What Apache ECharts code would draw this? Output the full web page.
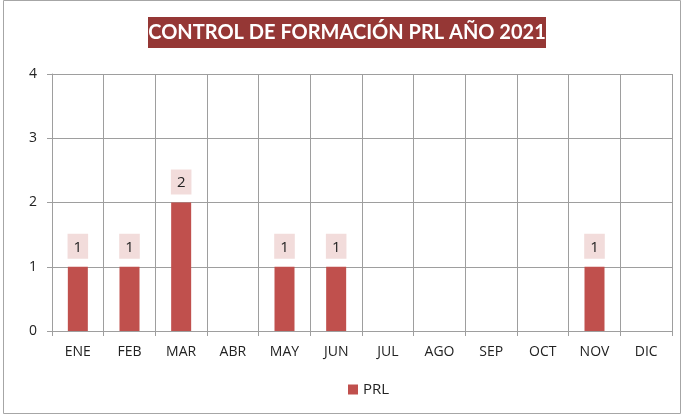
<!DOCTYPE html>
<html><head><meta charset="utf-8">
<script src="https://cdn.jsdelivr.net/npm/echarts@6/dist/echarts.min.js"></script>
<style>html,body{margin:0;padding:0;background:#fff}#c{width:683px;height:416px}</style>
</head><body><div id="c"></div>
<script>
const titleText = 'CONTROL DE FORMACIÓN PRL AÑO 2021';
const months = ['ENE','FEB','MAR','ABR','MAY','JUN','JUL','AGO','SEP','OCT','NOV','DIC'];
const prl = [1,1,2,null,1,1,null,null,null,null,1,null];
const seriesName = 'PRL';
const chart = echarts.init(document.getElementById('c'), null, {renderer:'canvas'});
const gridColor = '#9e9e9e';
const font = '"Open Sans", "Liberation Sans", Arial, sans-serif';
chart.setOption({
  animation:false,
  graphic:[
    {type:'rect', shape:{x:3.5,y:0.5,width:677,height:413}, style:{fill:'none', stroke:'#a6a6a6', lineWidth:1}, z:-1},
    {type:'rect', shape:{x:148,y:17,width:398,height:31}, style:{fill:'#953735'}},
    {type:'text', x:347, y:33, style:{text:titleText, fill:'#fff', font:'bold 20px Lato, "Open Sans", sans-serif', textAlign:'center', textVerticalAlign:'middle'}}
  ],
  legend:{data:[seriesName], bottom:14, left:343, itemWidth:10, itemHeight:10, icon:'rect', itemGap:6,
    textStyle:{fontSize:15, color:'#222', fontFamily:font}},
  grid:{left:52, right:11, top:74, bottom:85},
  xAxis:{type:'category', data:months, boundaryGap:true,
    axisLine:{show:true, lineStyle:{color:gridColor}},
    axisTick:{show:true, length:5, lineStyle:{color:gridColor}},
    splitLine:{show:true, lineStyle:{color:gridColor}},
    axisLabel:{color:'#222', fontSize:14, margin:14, fontFamily:font}},
  yAxis:{type:'value', min:0, max:4, interval:1,
    axisLine:{show:true, lineStyle:{color:gridColor}},
    axisTick:{show:true, length:5, lineStyle:{color:gridColor}},
    splitLine:{show:true, lineStyle:{color:gridColor}},
    axisLabel:{color:'#222', fontSize:14, margin:15, fontFamily:font}},
  series:[{name:seriesName, type:'bar', data:prl, barWidth:20, itemStyle:{color:'#c0504d'},
    label:{show:true, position:'top', distance:8, color:'#222', fontSize:15, fontFamily:font,
      backgroundColor:'#f2dcdb', padding:[6,6,4,6]}}]
});
</script></body></html>
